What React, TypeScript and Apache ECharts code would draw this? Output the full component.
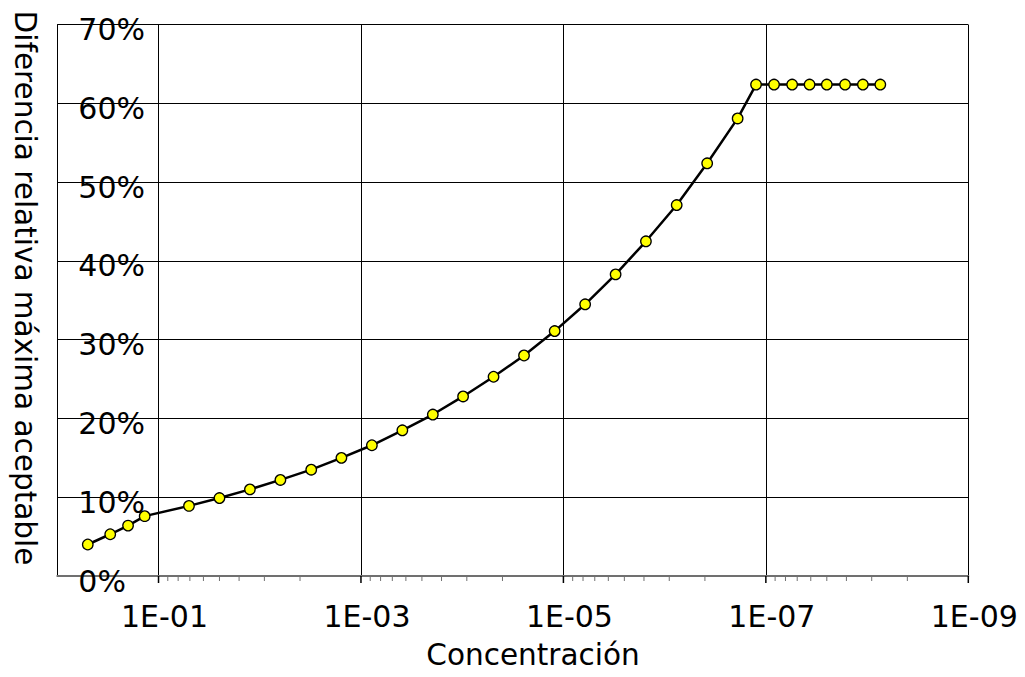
import React, { useEffect, useRef } from "react";
import * as echarts from "echarts";

// Concentration (x, log scale, reversed) and maximum acceptable relative difference (y)
const concentration = [
  0.5, 0.3, 0.2, 0.137, 0.05, 0.025, 0.0125, 0.00625, 0.0031, 0.00156,
  7.8e-4, 3.9e-4, 1.95e-4, 9.8e-5, 4.9e-5, 2.45e-5, 1.22e-5, 6.1e-6, 3.05e-6,
  1.53e-6, 7.6e-7, 3.8e-7, 1.9e-7, 1.25e-7, 8.3e-8, 5.5e-8, 3.7e-8, 2.5e-8,
  1.65e-8, 1.1e-8, 7.4e-9,
];
const maxRelDiff = [
  0.040, 0.053, 0.064, 0.076, 0.089, 0.099, 0.110, 0.122, 0.135, 0.150,
  0.166, 0.185, 0.205, 0.228, 0.253, 0.280, 0.311, 0.345, 0.383, 0.425,
  0.471, 0.524, 0.581, 0.624, 0.624, 0.624, 0.624, 0.624, 0.624, 0.624,
  0.624,
];

// Axis ticks
const majorTickValues = [1e-1, 1e-3, 1e-5, 1e-7, 1e-9];
const minorSpanBases = [1e-3, 1e-5, 1e-7, 1e-9];
const minorMultipliers = [4, 9, 16, 25, 36, 49, 64, 81];
const yMin = 0;
const yMax = 0.7;
const yStep = 0.1;

const xTitle = "Concentración";
const yTitle = "Diferencia relativa máxima aceptable";

const FONT = '"DejaVu Sans", Verdana, sans-serif';

function fmtExp(v: number): string {
  const e = Math.round(Math.log10(v));
  if (e === 0) return "";
  const s = e < 0 ? "-" : "+";
  const a = Math.abs(e);
  return "1E" + s + (a < 10 ? "0" + a : String(a));
}

export default function App() {
  const ref = useRef<HTMLDivElement>(null);
  useEffect(() => {
    document.body.style.margin = "0";
    if (!ref.current) return;
    const chart = echarts.init(ref.current, null, { renderer: "svg" });
    const minorTicks: number[] = [];
    minorSpanBases.forEach((b) => minorMultipliers.forEach((m) => minorTicks.push(b * m)));

    const tickSeries = (vals: number[], len: number, color: string, width: number) => ({
      type: "custom",
      coordinateSystem: "cartesian2d",
      silent: true,
      clip: false,
      z: 5,
      data: vals.map((v) => [v, 0]),
      renderItem: (_p: any, api: any) => {
        const p = api.coord([api.value(0), 0]);
        return {
          type: "line",
          shape: { x1: p[0], y1: p[1], x2: p[0], y2: p[1] + len },
          style: { stroke: color, lineWidth: width },
        };
      },
    });

    chart.setOption({
      animation: false,
      backgroundColor: "#ffffff",
      grid: { left: 57.3, right: 56.7, top: 24.7, bottom: 101, containLabel: false },
      xAxis: {
        type: "log",
        logBase: 10,
        min: 1e-9,
        max: 1,
        interval: 2,
        inverse: true,
        axisLine: { show: true, lineStyle: { color: "#707070", width: 2 } },
        axisTick: { show: false },
        splitLine: { show: true, lineStyle: { color: "#000", width: 1 } },
        minorTick: { show: false },
        minorSplitLine: { show: false },
        axisLabel: {
          show: true,
          formatter: (v: number) => fmtExp(v),
          fontFamily: FONT,
          fontSize: 30,
          color: "#000",
          margin: 25,
          padding: [0, 0, 0, 12],
          showMinLabel: true,
          showMaxLabel: true,
        },
      },
      yAxis: {
        type: "value",
        min: yMin,
        max: yMax,
        interval: yStep,
        axisLine: { show: true, lineStyle: { color: "#000", width: 1 } },
        axisTick: { show: false },
        splitLine: { show: true, lineStyle: { color: "#000", width: 1 } },
        axisLabel: {
          inside: true,
          margin: 21,
          align: "left",
          verticalAlign: "top",
          lineHeight: 10,
          formatter: (v: number) => Math.round(v * 100) + "%",
          fontFamily: FONT,
          fontSize: 30,
          color: "#000",
        },
      },
      graphic: [
        {
          type: "text",
          x: 533,
          y: 655,
          style: {
            text: xTitle,
            fill: "#000",
            fontFamily: FONT,
            fontSize: 29.5,
            align: "center",
            verticalAlign: "middle",
          },
        },
        {
          type: "text",
          x: 25,
          y: 288,
          rotation: -Math.PI / 2,
          style: {
            text: yTitle,
            fill: "#000",
            fontFamily: FONT,
            fontSize: 29.5,
            align: "center",
            verticalAlign: "middle",
          },
        },
      ],
      series: [
        tickSeries(minorTicks, 5, "#707070", 1),
        tickSeries(majorTickValues, 7, "#000", 1.5),
        {
          type: "line",
          data: concentration.map((c, i) => [c, maxRelDiff[i]]),
          symbol: "circle",
          symbolSize: 10.5,
          lineStyle: { color: "#000", width: 2.5 },
          itemStyle: { color: "#ffff00", borderColor: "#000", borderWidth: 1.3 },
          z: 10,
        },
      ],
    });
    return () => chart.dispose();
  }, []);
  return (
    <div
      ref={ref}
      style={{ position: "absolute", left: 0, top: 0, width: 1025, height: 677, background: "#fff" }}
    />
  );
}
